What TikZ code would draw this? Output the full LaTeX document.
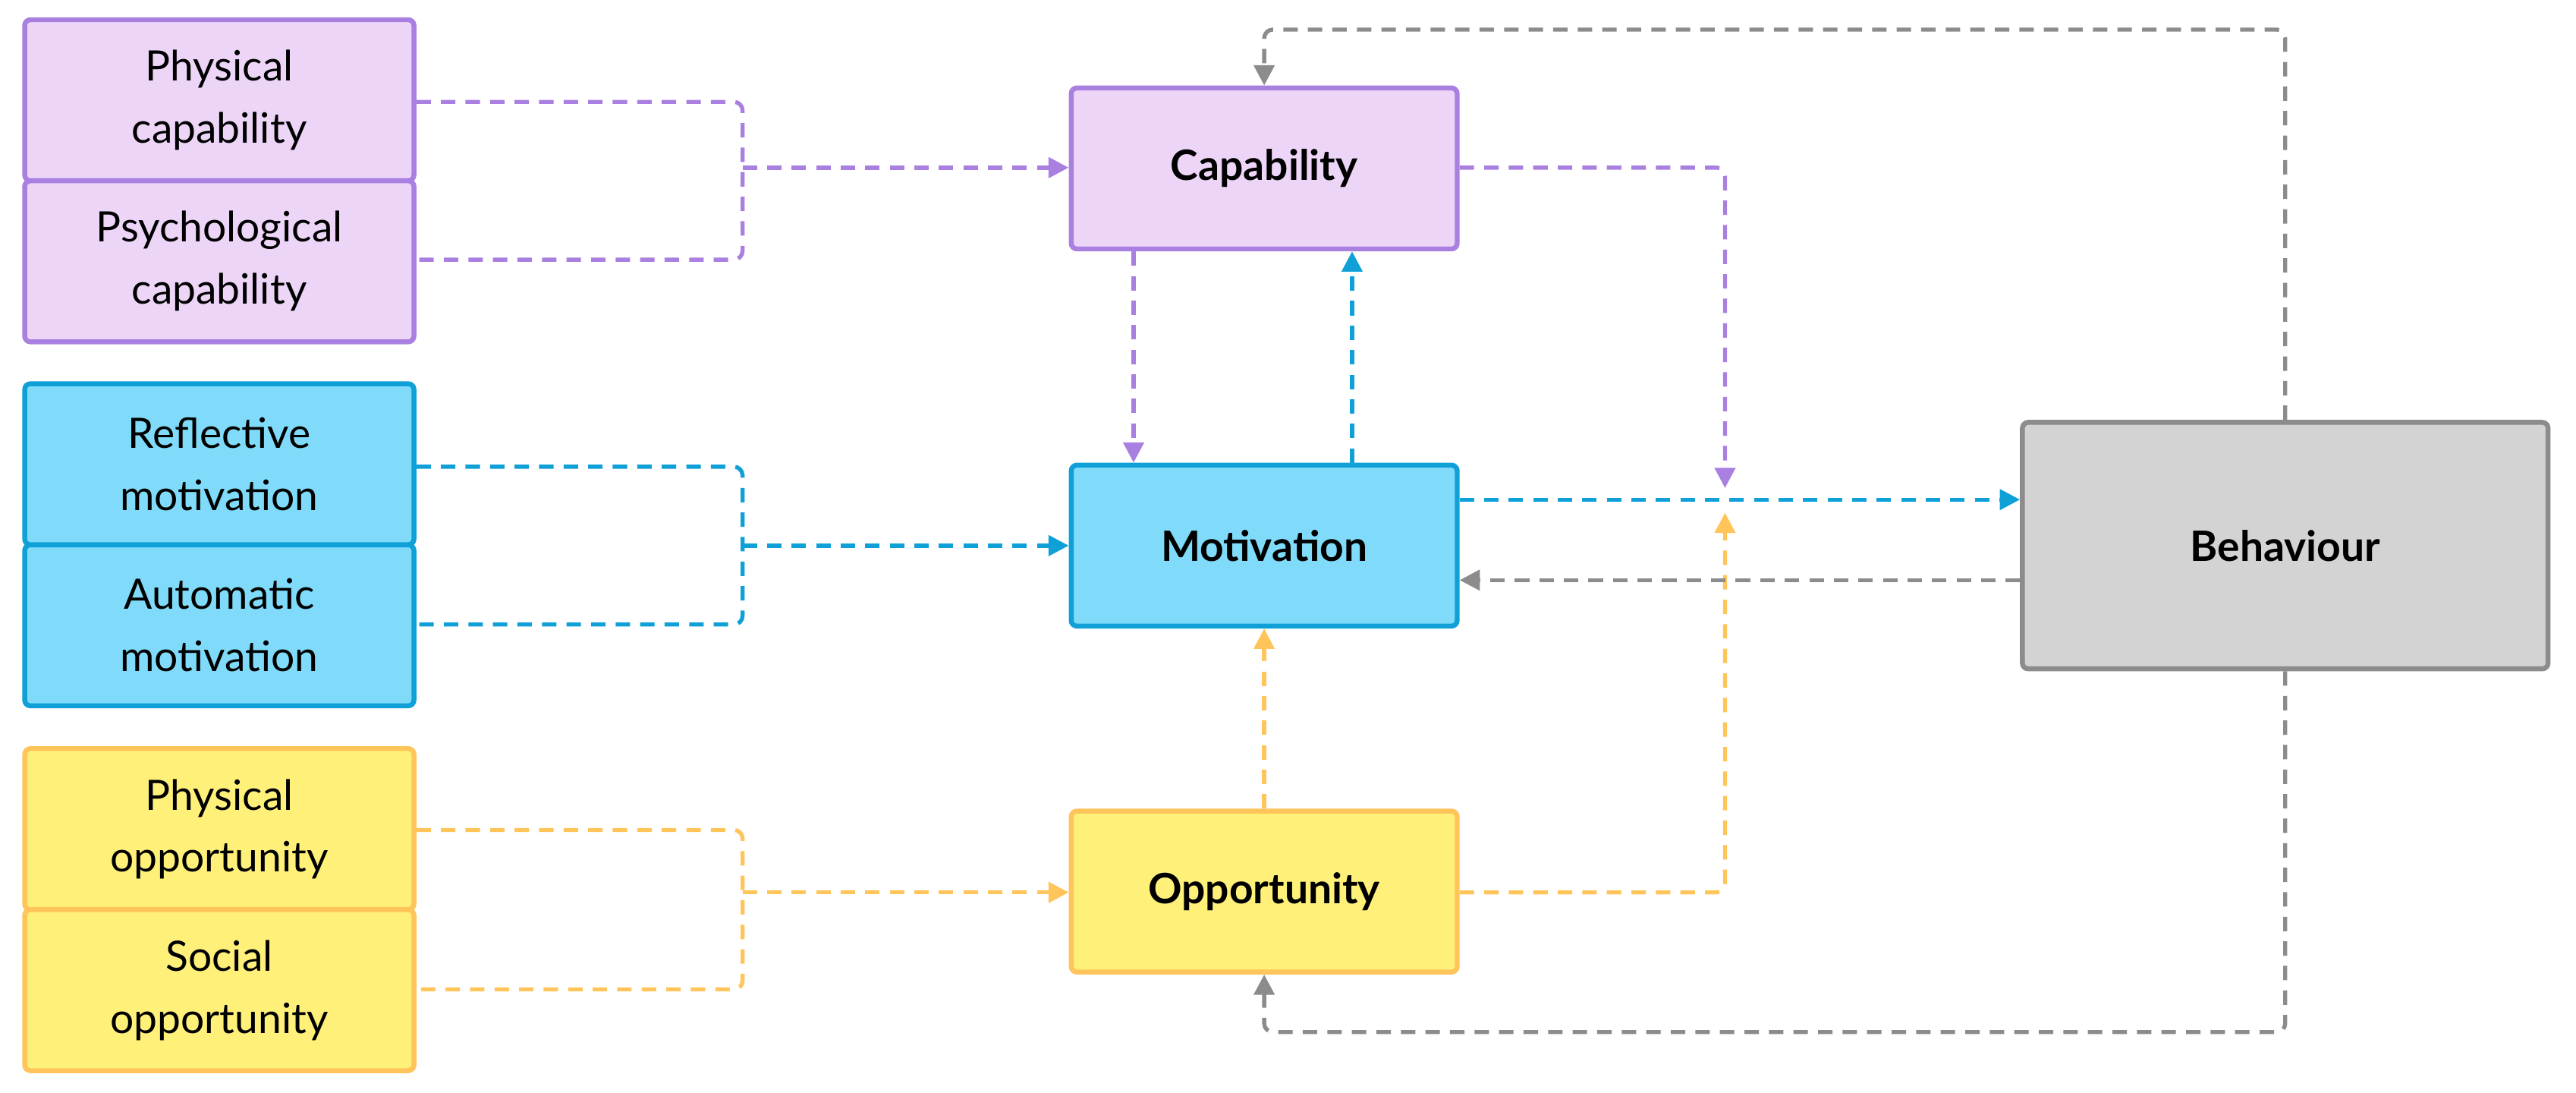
\documentclass[tikz,border=0pt]{standalone}
\usepackage{fontspec}
\setmainfont{Lato}
\usetikzlibrary{arrows.meta}
\definecolor{purpleline}{HTML}{A97FE0}
\definecolor{purplefill}{HTML}{EDD5F8}
\definecolor{blueline}{HTML}{0FA0D8}
\definecolor{bluefill}{HTML}{7FDBF9}
\definecolor{yellowline}{HTML}{FFC45A}
\definecolor{yellowfill}{HTML}{FFF07A}
\definecolor{grayline}{HTML}{8C8C8C}
\definecolor{grayfill}{HTML}{D3D3D3}
\begin{document}
\begin{tikzpicture}[x=0.02cm, y=-0.02cm, >={Triangle[length=7pt,width=7pt]}]
\tikzset{
  box/.style={
    draw, rectangle, rounded corners=2pt, line width=1.7pt,
    minimum width=4.74cm, minimum height=1.96cm,
    align=center, font=\fontsize{14.5}{21.5}\selectfont
  },
  main/.style={box, minimum width=4.7cm, font=\fontsize{14.5}{21.5}\selectfont\bfseries},
  link/.style={dash pattern=on 5pt off 3.5pt, line width=1.4pt, rounded corners=3pt}
}
\useasboundingbox (0,0) rectangle (1568,665);

% Components
\node[box, draw=purpleline, fill=purplefill] (phycap) at (133.5, 61)  {Physical\\capability};
\node[box, draw=purpleline, fill=purplefill] (psycap) at (133.5, 159) {Psychological\\capability};
\node[box, draw=blueline, fill=bluefill]     (refmot) at (133.5, 282.5) {Reflective\\motivation};
\node[box, draw=blueline, fill=bluefill]     (automot) at (133.5, 380.5) {Automatic\\motivation};
\node[box, draw=yellowline, fill=yellowfill] (phyopp) at (133.5, 504.5) {Physical\\opportunity};
\node[box, draw=yellowline, fill=yellowfill] (socopp) at (133.5, 602.5) {Social\\opportunity};

% Main nodes
\node[main, draw=purpleline, fill=purplefill] (cap) at (769.5, 102.5) {Capability};
\node[main, draw=blueline, fill=bluefill]     (mot) at (769.5, 332)   {Motivation};
\node[main, draw=yellowline, fill=yellowfill] (opp) at (769.5, 542.5) {Opportunity};
\node[main, draw=grayline, fill=grayfill, minimum width=6.4cm, minimum height=3cm] (beh) at (1391, 332) {Behaviour};

% Free ends
\coordinate (capjoin) at (1050, 297);
\coordinate (oppjoin) at (1050, 312);

% Grouping brackets
\draw[link, purpleline] (phycap.east |- 0,62) -- (452,62) -- (452,158) -- (psycap.east |- 0,158);
\draw[link, purpleline, ->] (452,102) -- (cap.west |- 0,102);
\draw[link, blueline] (refmot.east |- 0,284) -- (452,284) -- (452,380) -- (automot.east |- 0,380);
\draw[link, blueline, ->] (452,332) -- (mot.west |- 0,332);
\draw[link, yellowline] (phyopp.east |- 0,505) -- (452,505) -- (452,602) -- (socopp.east |- 0,602);
\draw[link, yellowline, ->] (452,543) -- (opp.west |- 0,543);

% Between main nodes
\draw[link, purpleline, ->] (cap.south -| 690,0) -- (mot.north -| 690,0);
\draw[link, blueline, ->] (mot.north -| 823,0) -- (cap.south -| 823,0);
\draw[link, yellowline, ->] (opp.north) -- (mot.south);
\draw[link, purpleline, ->] (cap.east |- 0,102) -- (1050,102) -- (capjoin);
\draw[link, yellowline, ->] (opp.east |- 0,543) -- (1050,543) -- (oppjoin);
\draw[link, blueline, ->] (mot.east |- 0,304) -- (beh.west |- 0,304);
\draw[link, grayline, ->] (beh.west |- 0,353) -- (mot.east |- 0,353);
\draw[link, grayline, ->] (beh.north) -- (1391,18) -- (769.5,18) -- (cap.north);
\draw[link, grayline, ->] (beh.south) -- (1391,628) -- (769.5,628) -- (opp.south);
\end{tikzpicture}
\end{document}
